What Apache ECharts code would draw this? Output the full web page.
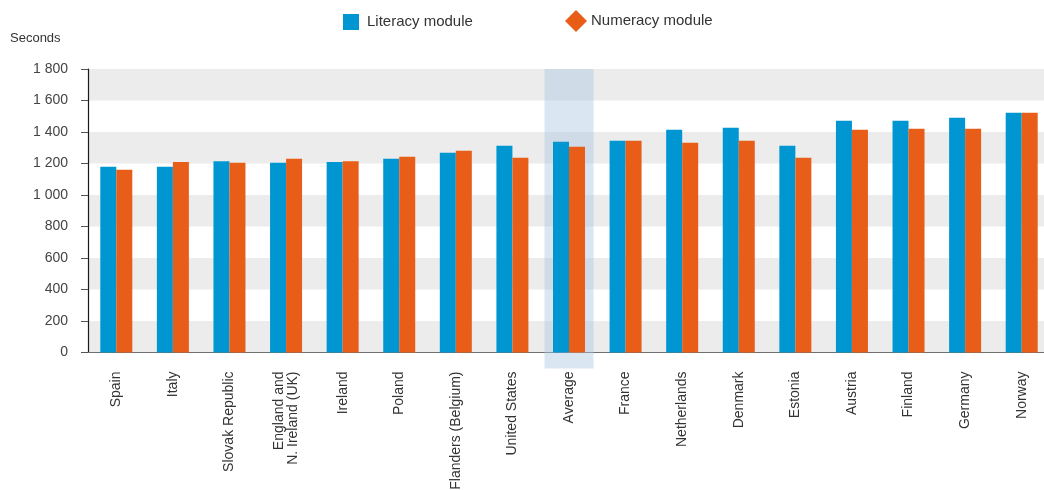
<!DOCTYPE html>
<html>
<head>
<meta charset="utf-8">
<title>Time spent on the literacy and numeracy modules</title>
<script src="https://cdn.jsdelivr.net/npm/echarts@6/dist/echarts.min.js"></script>
<style>
  html, body { margin: 0; padding: 0; background: #fff; }
  #chart { width: 1044px; height: 490px; }
</style>
</head>
<body>
<div id="chart"></div>
<script>
// Countries, ordered as shown on the horizontal axis
const countries = [
  'Spain', 'Italy', 'Slovak Republic', 'England and\nN. Ireland (UK)', 'Ireland',
  'Poland', 'Flanders (Belgium)', 'United States', 'Average', 'France',
  'Netherlands', 'Denmark', 'Estonia', 'Austria', 'Finland', 'Germany', 'Norway'
];

// Mean time spent on each module, in seconds
const literacy = [1180, 1180, 1215, 1205, 1210, 1230, 1268, 1313, 1338, 1344, 1414, 1427, 1313, 1471, 1471, 1490, 1522];
const numeracy = [1160, 1210, 1205, 1230, 1215, 1243, 1281, 1236, 1306, 1344, 1332, 1344, 1236, 1414, 1421, 1421, 1522];

// Vertical scale
const yMin = 0;
const yMax = 1800;
const yStep = 200;

const highlighted = 'Average';

const FONT = '"Liberation Sans", Arial, Helvetica, sans-serif';
const BLUE = '#0096d1';
const ORANGE = '#e85e19';

const chart = echarts.init(document.getElementById('chart'));

function withSpaces(v) {
  return String(v).replace(/\B(?=(\d{3})+(?!\d))/g, ' ');
}

chart.setOption({
  animation: false,
  textStyle: { fontFamily: FONT },
  legend: [
    {
      data: ['Literacy module'],
      left: 338, top: 9,
      itemWidth: 16, itemHeight: 16,
      icon: 'rect',
      textStyle: { fontSize: 15, color: '#333', fontFamily: FONT, padding: [0, 0, 0, 3] }
    },
    {
      data: ['Numeracy module'],
      left: 560, top: 5,
      itemWidth: 22, itemHeight: 22,
      icon: 'diamond',
      textStyle: { fontSize: 15, color: '#333', fontFamily: FONT, padding: [0, 0, 0, -1] }
    }
  ],
  grid: { left: 88, right: -6, top: 69, bottom: 137.5, containLabel: false, outerBoundsMode: 'none' },
  xAxis: {
    type: 'category',
    data: countries,
    axisLine: { show: true, lineStyle: { color: '#6f6f6f', width: 1 } },
    axisTick: { show: false },
    axisLabel: {
      rotate: 90,
      interval: 0,
      margin: 19,
      fontSize: 14,
      lineHeight: 14,
      color: '#333',
      fontFamily: FONT
    },
    splitLine: { show: false }
  },
  yAxis: {
    type: 'value',
    min: yMin, max: yMax, interval: yStep,
    axisLine: { show: true, lineStyle: { color: '#1a1a1a', width: 1.2 } },
    axisTick: { show: true, length: 7, lineStyle: { color: '#555' } },
    axisLabel: {
      margin: 20,
      fontSize: 14,
      color: '#444',
      fontFamily: FONT,
      formatter: withSpaces
    },
    splitLine: { show: false },
    splitArea: { show: true, areaStyle: { color: ['#ebeceb', '#ffffff'] } }
  },
  series: [
    {
      name: 'Literacy module',
      type: 'bar',
      data: literacy,
      barWidth: 16,
      barGap: '0%',
      itemStyle: { color: BLUE },
      z: 3
    },
    {
      name: 'Numeracy module',
      type: 'bar',
      data: numeracy,
      barWidth: 16,
      barGap: '0%',
      itemStyle: { color: ORANGE },
      z: 3
    }
  ]
});

// Shaded column behind the average bars, running from the top of the plot to just below the axis
function drawHighlight() {
  const cx = chart.convertToPixel({ xAxisIndex: 0 }, highlighted);
  const yTop = chart.convertToPixel({ yAxisIndex: 0 }, yMax);
  const yBase = chart.convertToPixel({ yAxisIndex: 0 }, yMin);
  const w = 49;
  chart.setOption({
    graphic: [
      {
        type: 'rect',
        z: 1,
        silent: true,
        shape: { x: cx - w / 2, y: yTop, width: w, height: yBase - yTop + 16 },
        style: { fill: 'rgba(172, 199, 224, 0.45)' }
      },
      {
        type: 'text',
        left: 10, top: 32,
        style: { text: 'Seconds', fontSize: 13, fill: '#333', fontFamily: FONT }
      }
    ]
  });
}
drawHighlight();
</script>
</body>
</html>
